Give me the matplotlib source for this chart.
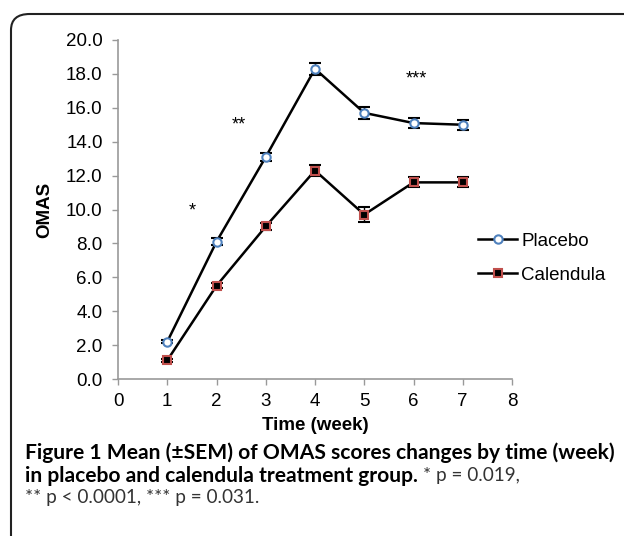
import matplotlib.pyplot as plt
from matplotlib.patches import FancyBboxPatch

plt.rcParams['font.family'] = ['Liberation Sans', 'DejaVu Sans']

# Data
weeks = [1, 2, 3, 4, 5, 6, 7]
placebo = [2.2, 8.1, 13.1, 18.3, 15.7, 15.1, 15.0]
placebo_sem = [0.1, 0.2, 0.25, 0.35, 0.37, 0.3, 0.3]
calendula = [1.1, 5.5, 9.0, 12.3, 9.7, 11.6, 11.6]
calendula_sem = [0.1, 0.15, 0.2, 0.35, 0.42, 0.3, 0.3]

# Significance marks (x, y, label)
sig_x = [1.5, 2.45, 6.05]
sig_y = [9.9, 15.0, 17.7]
sig_labels = ['*', '**', '***']

W, H = 624, 536
fig = plt.figure(figsize=(W / 100, H / 100), dpi=100)

# rounded frame around the figure (open to the right and bottom)
frame = FancyBboxPatch((11 / W, -0.2), 1.2, 1.2 - 14 / H,
                       boxstyle='round,pad=0,rounding_size=0.03',
                       transform=fig.transFigure, fill=False,
                       edgecolor='#222222', linewidth=1.5)
fig.patches.append(frame)

ax = fig.add_axes([118 / W, 1 - 379 / H, (512 - 118) / W, (379 - 40) / H])

ax.errorbar(weeks, placebo, yerr=placebo_sem, color='black', lw=1.8,
            marker='o', ms=6, mfc='white', mec='#4F81BD', mew=1.5,
            ecolor='black', elinewidth=1, capsize=4, capthick=1,
            label='Placebo', zorder=3)
ax.errorbar(weeks, calendula, yerr=calendula_sem, color='black', lw=1.8,
            marker='s', ms=6, mfc='black', mec='#C0504D', mew=1.5,
            ecolor='black', elinewidth=1, capsize=4, capthick=1,
            label='Calendula', zorder=3)

for x, y, s in zip(sig_x, sig_y, sig_labels):
    ax.text(x, y, s, ha='center', va='center', fontsize=13)

ax.set_xlim(0, 8)
ax.set_ylim(0, 20)
ax.set_xticks(range(0, 9))
ax.set_yticks([i * 2 for i in range(11)])
ax.set_yticklabels([f'{i * 2:.1f}' for i in range(11)])
ax.tick_params(labelsize=13.5, color='#999999', length=4, width=1, direction='out')
ax.tick_params(axis='y', pad=7)
ax.tick_params(axis='x', pad=6)

for side in ['top', 'right']:
    ax.spines[side].set_visible(False)
for side in ['left', 'bottom']:
    ax.spines[side].set_color('#999999')
    ax.spines[side].set_linewidth(1.2)

ax.set_xlabel('Time (week)', fontsize=13.5, fontweight='bold')
ax.xaxis.set_label_coords(0.5, 1 - (425 - 40) / (379 - 40))
ax.xaxis.label.set_va('center')
ax.set_ylabel('OMAS', fontsize=13.5, fontweight='bold')
ax.yaxis.set_label_coords((45 - 118) / (512 - 118), 0.5)
ax.yaxis.label.set_va('center')

handles, labels = ax.get_legend_handles_labels()
handles = [h[0] for h in handles]
fig.legend(handles, labels, loc='center left', bbox_to_anchor=(478 / W, 1 - 258 / H),
           frameon=False, fontsize=13.5, handlelength=2.1, handletextpad=0.2,
           labelspacing=0.9, borderaxespad=0, borderpad=0)

# caption with bold and regular parts; size fitted to the reference line width
cap_font = ['Lato', 'DejaVu Sans']
line1 = 'Figure 1 Mean (±SEM) of OMAS scores changes by time (week)'
renderer = fig.canvas.get_renderer()
probe = fig.text(0, 0, line1, fontsize=12, fontweight='bold', family=cap_font)
probe_w = probe.get_window_extent(renderer=renderer).width
probe.remove()
cap_size = 12 * (611 - 25) / probe_w
norm_size = 0.9 * cap_size

fig.text(25 / W, 1 - 453 / H, line1,
         fontsize=cap_size, fontweight='bold', family=cap_font, va='center')
t_bold = fig.text(25 / W, 1 - 476 / H, 'in placebo and calendula treatment group.',
                  fontsize=cap_size, fontweight='bold', family=cap_font, va='center')
bb = t_bold.get_window_extent(renderer=renderer)
fig.text((bb.x1 + 5) / W, 1 - 476 / H, '* p = 0.019,',
         fontsize=norm_size, family=cap_font, va='center', color='#333333')
fig.text(25 / W, 1 - 498 / H, '** p < 0.0001, *** p = 0.031.',
         fontsize=norm_size, family=cap_font, va='center', color='#333333')

fig.savefig('out.png', dpi=100)
